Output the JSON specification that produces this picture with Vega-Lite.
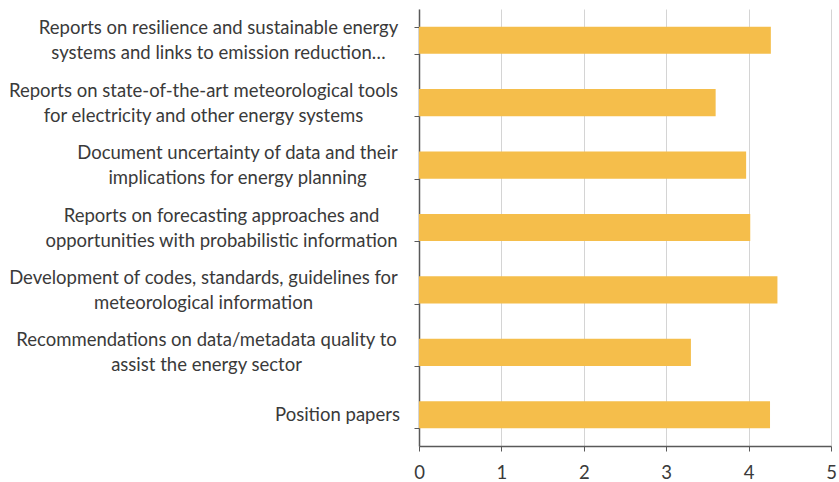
{
  "$schema": "https://vega.github.io/schema/vega-lite/v6.json",
  "width": 412,
  "height": 437,
  "autosize": {"type": "none"},
  "padding": {"left": 419, "top": 9, "right": 8, "bottom": 36},
  "background": "white",
  "data": {
    "values": [
      {"task": "Reports on resilience and sustainable energy|systems and links to emission reduction…", "score": 4.27},
      {"task": "Reports on state-of-the-art meteorological tools|for electricity and other energy systems", "score": 3.60},
      {"task": "Document uncertainty of data and their|implications for energy planning", "score": 3.97},
      {"task": "Reports on forecasting approaches and|opportunities with probabilistic information", "score": 4.02},
      {"task": "Development of codes, standards, guidelines for|meteorological information", "score": 4.35},
      {"task": "Recommendations on data/metadata quality to|assist the energy sector", "score": 3.30},
      {"task": "Position papers", "score": 4.26}
    ]
  },
  "mark": {"type": "bar", "color": "#F5BE4B"},
  "encoding": {
    "y": {
      "field": "task",
      "type": "nominal",
      "sort": null,
      "scale": {"paddingInner": 0.565, "paddingOuter": 0.2825},
      "axis": {
        "title": null,
        "labelExpr": "split(datum.label, '|')",
        "labelAlign": "center",
        "labelBaseline": "middle",
        "labelPadding": 0,
        "labelLimit": 0,
        "labelFont": "Lato",
        "labelFontSize": 18.5,
        "labelLineHeight": 25,
        "labelColor": "#3a3a3a",
        "tickBand": "extent",
        "tickSize": 5,
        "tickColor": "#595959",
        "domainColor": "#595959",
        "domainWidth": 1.5,
        "grid": false,
        "encoding": {
          "labels": {
            "dx": {
              "condition": [
                {"test": "datum.value === 'Reports on resilience and sustainable energy|systems and links to emission reduction…'", "value": -196},
                {"test": "datum.value === 'Reports on state-of-the-art meteorological tools|for electricity and other energy systems'", "value": -211},
                {"test": "datum.value === 'Document uncertainty of data and their|implications for energy planning'", "value": -177},
                {"test": "datum.value === 'Reports on forecasting approaches and|opportunities with probabilistic information'", "value": -193},
                {"test": "datum.value === 'Development of codes, standards, guidelines for|meteorological information'", "value": -211},
                {"test": "datum.value === 'Recommendations on data/metadata quality to|assist the energy sector'", "value": -208}
              ],
              "value": -77
            },
            "dy": {
              "condition": {"test": "datum.value === 'Position papers'", "value": 0},
              "value": -12.5
            }
          }
        }
      }
    },
    "x": {
      "field": "score",
      "type": "quantitative",
      "scale": {"domain": [0, 5], "nice": false},
      "axis": {
        "title": null,
        "values": [0, 1, 2, 3, 4, 5],
        "format": "d",
        "labelFlush": false,
        "labelFont": "Lato",
        "labelFontSize": 18.5,
        "labelColor": "#3a3a3a",
        "labelPadding": 12,
        "tickSize": 5,
        "tickColor": "#595959",
        "domainColor": "#595959",
        "domainWidth": 1.5,
        "grid": true,
        "gridColor": "#d4d4d4",
        "gridWidth": 1
      }
    }
  },
  "config": {"view": {"stroke": null}}
}
